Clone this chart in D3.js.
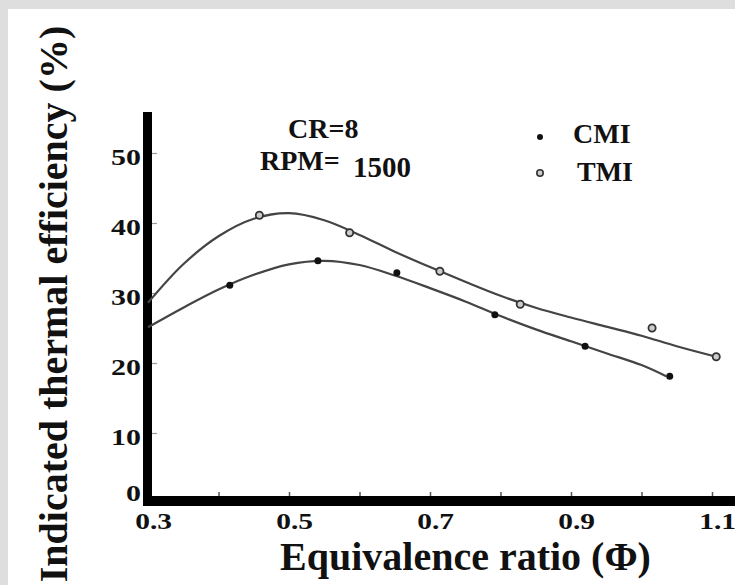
<!DOCTYPE html>
<html>
<head>
<meta charset="utf-8">
<script src="https://cdn.jsdelivr.net/npm/d3@7"></script>
<style>
  body { margin: 0; background: #dedede; }
  svg text { font-family: "Liberation Serif", "Times New Roman", serif; font-weight: bold; fill: #111; }
</style>
</head>
<body>
<svg width="735" height="585"></svg>
<script>
// measured points
const cmiPhi = [0.416, 0.541, 0.653, 0.792, 0.920, 1.040];
const cmiEff = [31.1, 34.6, 32.9, 26.9, 22.4, 18.1];
const tmiPhi = [0.458, 0.586, 0.714, 0.828, 1.015, 1.106];
const tmiEff = [41.1, 38.6, 33.1, 28.4, 25.0, 20.9];

// fitted trend lines
const cmiFitPhi = [0.30, 0.35, 0.40, 0.45, 0.50, 0.55, 0.60, 0.65, 0.70, 0.75, 0.80, 0.85, 0.90, 0.95, 1.00, 1.035];
const cmiFitEff = [25.1, 27.9, 30.5, 32.6, 34.1, 34.6, 34.0, 32.5, 30.7, 28.8, 26.7, 24.8, 23.1, 21.4, 19.7, 18.1];
const tmiFitPhi = [0.30, 0.35, 0.40, 0.45, 0.50, 0.55, 0.60, 0.65, 0.70, 0.75, 0.80, 0.85, 0.90, 0.95, 1.00, 1.05, 1.106];
const tmiFitEff = [28.6, 34.1, 38.1, 40.6, 41.4, 40.4, 38.3, 35.9, 33.7, 31.6, 29.6, 27.9, 26.5, 25.2, 23.9, 22.4, 20.9];

const xTicks = [0.3, 0.5, 0.7, 0.9, 1.1];
const xMinor = [0.4, 0.5, 0.6, 0.7, 0.8, 0.9, 1.0, 1.1];
const yTicks = [0, 10, 20, 30, 40, 50];

const svg = d3.select("svg");
const width = +svg.attr("width");
const height = +svg.attr("height");

// page background (scanned figure)
svg.append("rect").attr("width", width).attr("height", height).attr("fill", "#dedede");
svg.append("rect").attr("x", 8).attr("y", 9).attr("width", width - 8).attr("height", height - 9).attr("fill", "#fff");

const x = d3.scaleLinear().domain([0.3, 1.1]).range([148, 712]);
const y = d3.scaleLinear().domain([0, 50]).range([503, 153]);

// minor ticks on x axis
svg.append("g")
    .attr("transform", "translate(0,496)")
    .call(d3.axisTop(x).tickValues(xMinor).tickSize(4).tickFormat(""))
    .call(g => g.select(".domain").remove())
    .selectAll("line").attr("stroke", "#555").attr("stroke-width", 1.5);

// x tick labels
svg.append("g")
    .attr("transform", "translate(0,506)")
    .call(d3.axisBottom(x).tickValues(xTicks).tickSize(0).tickPadding(0).tickFormat(d3.format(".1f")))
    .call(g => g.select(".domain").remove())
    .selectAll("text")
        .attr("font-size", 23)
        .attr("font-family", "Liberation Serif")
        .attr("font-weight", "bold")
        .attr("fill", "#111")
        .attr("dy", 0)
        .attr("y", 23)
        .attr("x", 4)
        .attr("transform", "scale(1.28,1)");

// y ticks + labels
svg.append("g")
    .attr("transform", "translate(152,0)")
    .call(d3.axisLeft(y).tickValues(yTicks).tickSize(-5).tickPadding(0))
    .call(g => g.select(".domain").remove())
    .call(g => g.selectAll("line").attr("stroke", "#999").attr("stroke-width", 1.2))
    .selectAll("text")
        .attr("font-size", 23)
        .attr("font-family", "Liberation Serif")
        .attr("font-weight", "bold")
        .attr("fill", "#111")
        .attr("text-anchor", "end")
        .attr("x", -11 / 1.3)
        .attr("dy", d => d === 0 ? "-0.1em" : "0.5em")
        .attr("transform", "scale(1.3,1)");

// thick axis lines
svg.append("rect").attr("x", 143).attr("y", 112).attr("width", 9).attr("height", 394).attr("fill", "#000");
svg.append("rect").attr("x", 143).attr("y", 496).attr("width", width - 143).attr("height", 10).attr("fill", "#000");

// fitted curves
const line = d3.line()
    .x(d => x(d[0]))
    .y(d => y(d[1]))
    .curve(d3.curveCatmullRom.alpha(0.5));

svg.append("path")
    .datum(d3.zip(tmiFitPhi, tmiFitEff))
    .attr("d", line)
    .attr("fill", "none")
    .attr("stroke", "#444")
    .attr("stroke-width", 2.2);

svg.append("path")
    .datum(d3.zip(cmiFitPhi, cmiFitEff))
    .attr("d", line)
    .attr("fill", "none")
    .attr("stroke", "#444")
    .attr("stroke-width", 2.2);

// markers
svg.append("g").selectAll("circle")
    .data(d3.zip(cmiPhi, cmiEff))
    .join("circle")
    .attr("cx", d => x(d[0]))
    .attr("cy", d => y(d[1]))
    .attr("r", 3.5)
    .attr("fill", "#111");

svg.append("g").selectAll("circle")
    .data(d3.zip(tmiPhi, tmiEff))
    .join("circle")
    .attr("cx", d => x(d[0]))
    .attr("cy", d => y(d[1]))
    .attr("r", 3.6)
    .attr("fill", "#ccc")
    .attr("stroke", "#333")
    .attr("stroke-width", 1.8);

// annotation
svg.append("text").attr("x", 288).attr("y", 138).attr("font-size", 28).text("CR=8");
svg.append("text").attr("x", 260).attr("y", 170).attr("font-size", 28).text("RPM=");
svg.append("text").attr("x", 353).attr("y", 177).attr("font-size", 29).text("1500");

// legend
svg.append("circle").attr("cx", 540).attr("cy", 137).attr("r", 3).attr("fill", "#111");
svg.append("circle").attr("cx", 540).attr("cy", 173).attr("r", 3.2).attr("fill", "#ccc").attr("stroke", "#333").attr("stroke-width", 1.6);
svg.append("text").attr("x", 573).attr("y", 143).attr("font-size", 28).text("CMI");
svg.append("text").attr("x", 577).attr("y", 181).attr("font-size", 28).text("TMI");

// axis titles
svg.append("text")
    .attr("x", 280)
    .attr("y", 570)
    .attr("font-size", 40)
    .text("Equivalence ratio (Φ)");

svg.append("text")
    .attr("transform", "translate(67,304) rotate(-90)")
    .attr("text-anchor", "middle")
    .attr("font-size", 40)
    .text("Indicated thermal efficiency (%)");
</script>
</body>
</html>
